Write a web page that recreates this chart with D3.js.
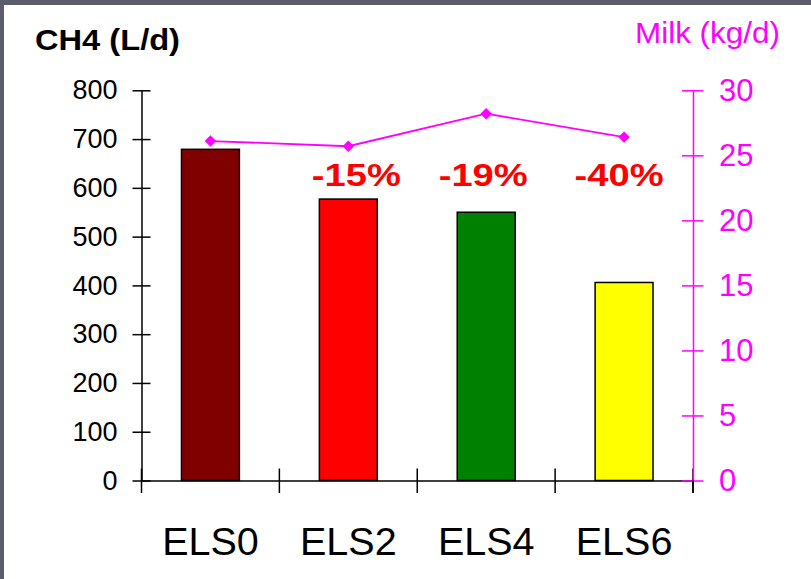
<!DOCTYPE html>
<html>
<head>
<meta charset="utf-8">
<script src="https://cdn.jsdelivr.net/npm/d3@7"></script>
<style>
  html, body { margin: 0; padding: 0; background: #ffffff; }
  svg { display: block; }
</style>
</head>
<body>
<svg id="chart" width="811" height="579"></svg>
<script>
// Treatment groups
const categories = ["ELS0", "ELS2", "ELS4", "ELS6"];
// Methane emission per group (L/d)
const ch4Values = [679, 577, 550, 406];
// Milk yield per group (kg/d)
const milkValues = [26.1, 25.7, 28.2, 26.4];
// Bar fill for each group
const barColors = ["#800000", "#ff0000", "#008000", "#ffff00"];
// Axis tick values
const ch4Ticks = [0, 100, 200, 300, 400, 500, 600, 700, 800];
const milkTicks = [0, 5, 10, 15, 20, 25, 30];

(function () {
const svg = d3.select("#chart");
const W = 811, H = 579;

// Slide frame
svg.append("rect").attr("x", 0).attr("y", 0).attr("width", W).attr("height", H).attr("fill", "#ffffff");
svg.append("rect").attr("x", 0).attr("y", 0).attr("width", W).attr("height", 5).attr("fill", "#5b5c6c");
svg.append("rect").attr("x", 0).attr("y", 0).attr("width", 4).attr("height", H).attr("fill", "#5b5c6c");

const plotLeft = 141.5, plotRight = 693, plotTop = 90.3, plotBottom = 480.5;

const x = d3.scaleBand().domain(categories).range([plotLeft, plotRight]).paddingInner(0.58).paddingOuter(0.29);
const yL = d3.scaleLinear().domain([0, 800]).range([plotBottom, plotTop]);
const yR = d3.scaleLinear().domain([0, 30]).range([plotBottom, plotTop]);

const sans = "'Liberation Sans', Arial, Helvetica, sans-serif";

// Bars
svg.append("g").selectAll("rect")
  .data(categories)
  .join("rect")
  .attr("x", d => x(d))
  .attr("y", (d, i) => yL(ch4Values[i]))
  .attr("width", x.bandwidth())
  .attr("height", (d, i) => yL(0) - yL(ch4Values[i]))
  .attr("fill", (d, i) => barColors[i])
  .attr("stroke", "#000")
  .attr("stroke-width", 1.5);

// Category axis
const gx = svg.append("g").attr("transform", `translate(0,${plotBottom})`)
  .call(d3.axisBottom(x).tickSize(0).tickSizeOuter(0));
gx.select(".domain").attr("stroke", "#000").attr("stroke-width", 1.5);
gx.selectAll(".tick text")
  .attr("y", 74.5).attr("dy", 0)
  .attr("font-family", sans).attr("font-size", 39.5).attr("fill", "#000");

// Group separators on the category axis
const step = x.step();
const bounds = categories.map(c => x(c) - step * x.paddingInner() / 2).concat([plotRight]);
gx.selectAll(".sep").data(bounds).join("line")
  .attr("class", "sep")
  .attr("x1", d => d).attr("x2", d => d)
  .attr("y1", -12).attr("y2", 12.5)
  .attr("stroke", "#000").attr("stroke-width", 1.5);

// Left axis (CH4)
const gl = svg.append("g").attr("transform", `translate(${plotLeft},0)`)
  .call(d3.axisLeft(yL).tickValues(ch4Ticks).tickSize(9).tickSizeOuter(0).tickPadding(15));
gl.select(".domain").attr("stroke", "#000").attr("stroke-width", 1.5);
gl.selectAll(".tick line").attr("x1", 9).attr("x2", -9).attr("stroke", "#000").attr("stroke-width", 1.5);
gl.selectAll(".tick text").attr("font-family", sans).attr("font-size", 27).attr("fill", "#000");

// Right axis (milk)
const gr = svg.append("g").attr("transform", `translate(${plotRight},0)`)
  .call(d3.axisRight(yR).tickValues(milkTicks).tickSize(10.5).tickSizeOuter(0).tickPadding(15.5));
gr.select(".domain").attr("stroke", "#ff00ff").attr("stroke-width", 1.5);
gr.selectAll(".tick line").attr("x1", -11).attr("x2", 10.5).attr("stroke", "#ff00ff").attr("stroke-width", 1.5);
gr.selectAll(".tick text").attr("font-family", sans).attr("font-size", 31).attr("fill", "#ff00ff");

// Black separator tick below the milk axis base
svg.append("line")
  .attr("x1", plotRight).attr("x2", plotRight).attr("y1", plotBottom).attr("y2", plotBottom + 12.5)
  .attr("stroke", "#000").attr("stroke-width", 1.5);

// Milk line with diamond markers
const cx = d => x(d) + x.bandwidth() / 2;
const line = d3.line().x(d => cx(d)).y((d, i) => yR(milkValues[i]));
svg.append("path").datum(categories)
  .attr("d", line)
  .attr("fill", "none").attr("stroke", "#ff00ff").attr("stroke-width", 1.8);
svg.append("g").selectAll("path")
  .data(categories)
  .join("path")
  .attr("d", d3.symbol(d3.symbolSquare, 66))
  .attr("transform", (d, i) => `translate(${cx(d)},${yR(milkValues[i])}) rotate(45)`)
  .attr("fill", "#ff00ff");

// Change relative to ELS0, set slightly off the bar centres
const labelShift = [8, -3, -5];
const changes = ch4Values.map(v => Math.round((v / ch4Values[0] - 1) * 100));
svg.append("g").selectAll("text")
  .data(categories.slice(1))
  .join("text")
  .attr("x", (d, i) => cx(d) + labelShift[i])
  .attr("y", 185.5)
  .attr("text-anchor", "middle")
  .attr("font-family", sans).attr("font-weight", "bold").attr("font-size", 31)
  .attr("textLength", 89).attr("lengthAdjust", "spacingAndGlyphs")
  .attr("fill", "#ff0000")
  .text((d, i) => `${changes[i + 1]}%`);

// Axis titles
svg.append("text")
  .attr("x", 35).attr("y", 50)
  .attr("font-family", sans).attr("font-weight", "bold").attr("font-size", 30)
  .attr("textLength", 145).attr("lengthAdjust", "spacingAndGlyphs")
  .attr("fill", "#000")
  .text("CH4 (L/d)");
svg.append("text")
  .attr("x", 635).attr("y", 43)
  .attr("font-family", sans).attr("font-size", 30)
  .attr("textLength", 145).attr("lengthAdjust", "spacingAndGlyphs")
  .attr("fill", "#ff00ff")
  .text("Milk (kg/d)");
})();
</script>
</body>
</html>
